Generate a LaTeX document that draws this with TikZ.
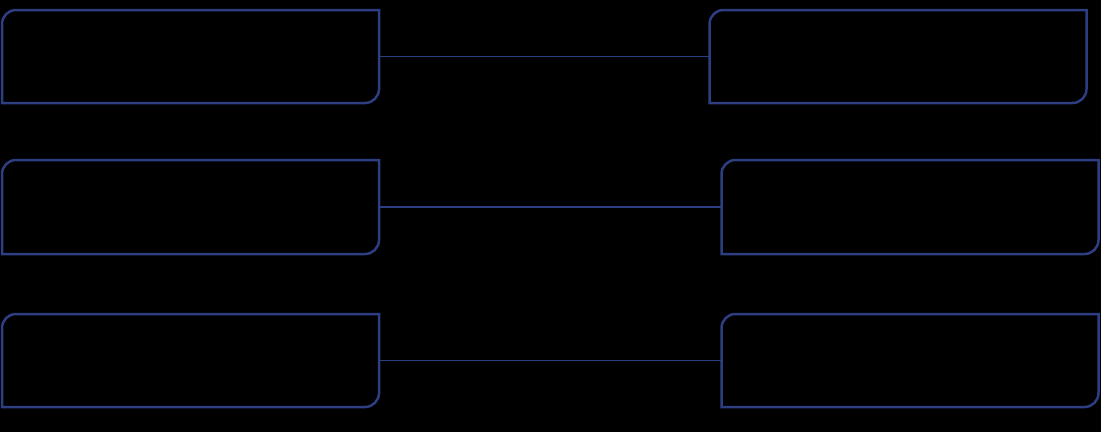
\documentclass[tikz,border=0pt]{standalone}
\definecolor{boxblue}{RGB}{46,62,130}
\tikzset{
  boxn/.style={inner sep=0pt, outer sep=0pt, minimum width=377pt, minimum height=93pt, draw=none},
  outline/.style={draw=boxblue, line width=2.5pt},
  conn/.style={draw=boxblue, line width=1.8pt},
}
\newcommand{\cutbox}[1]{%
  \draw[outline] (#1.south west) -- ([yshift=-14pt]#1.north west)
    arc[start angle=180, end angle=90, radius=14pt] -- (#1.north east)
    -- ([yshift=14pt]#1.south east)
    arc[start angle=0, end angle=-90, radius=14pt] -- cycle;}
\begin{document}
\begin{tikzpicture}[x=1pt,y=-1pt]
\fill[black] (0,0) rectangle (1101,432);
\useasboundingbox (0,0) rectangle (1101,432);
\node[boxn] (L1) at (190.5,56.5) {};
\node[boxn] (R1) at (898,56.5) {};
\node[boxn, minimum height=94pt] (L2) at (190.5,207) {};
\node[boxn, minimum height=94pt] (R2) at (910,207) {};
\node[boxn] (L3) at (190.5,360.5) {};
\node[boxn] (R3) at (910,360.5) {};
\foreach \n in {L1,R1,L2,R2,L3,R3} {\cutbox{\n}}
\draw[conn] (L1.east) -- (R1.west);
\draw[conn] (L2.east) -- (R2.west);
\draw[conn] (L3.east) -- (R3.west);
\end{tikzpicture}
\end{document}
